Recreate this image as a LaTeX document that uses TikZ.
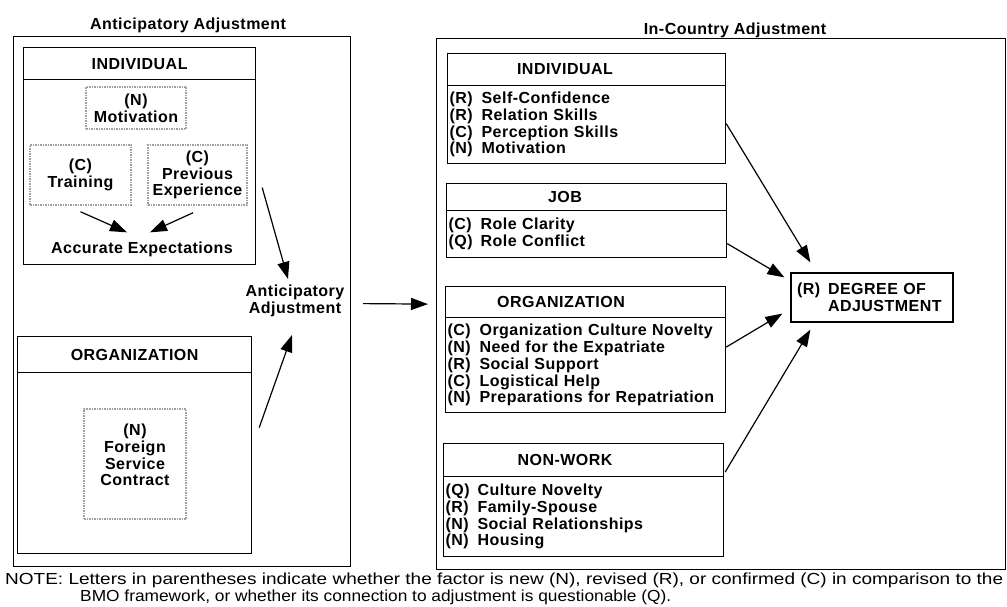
\documentclass[tikz,border=0pt]{standalone}
\usepackage{fontspec}
\usepackage{graphicx}
\usetikzlibrary{arrows.meta,calc}
\newfontfamily\dfont{Liberation Sans}[LetterSpace=3]
\newfontfamily\nfont{Liberation Sans}
\newcommand{\dtxt}{\dfont\bfseries\fontsize{16pt}{16.8pt}\selectfont}
\newcommand{\ntxt}{\nfont\fontsize{16pt}{17pt}\selectfont}
\newcommand{\pfx}[1]{\makebox[32pt][l]{#1}}
\tikzset{
  box/.style={draw, line width=1.2pt, inner sep=0pt},
  dbox/.style={draw=gray!75, line width=1.5pt, densely dotted, inner sep=0pt, font=\dtxt, align=center},
  lbl/.style={font=\dtxt, inner sep=0pt, align=center},
  listbox/.style={box, font=\dtxt, align=left, inner xsep=2pt},
  arr/.style={line width=1.2pt, -{Triangle[length=17pt,width=12pt]}},
}
\begin{document}
\begin{tikzpicture}[x=1pt,y=-1pt]
\useasboundingbox (0,0) rectangle (1007,607);
% outer frames
\node[box, minimum width=337pt, minimum height=530pt, anchor=north west] (lbox) at (13,36) {};
\node[box, minimum width=569pt, minimum height=531pt, anchor=north west] (rbox) at (436,38) {};
\node[lbl] (ltitle) at (188,25) {Anticipatory Adjustment};
\node[lbl] (rtitle) at (735,30) {In-Country Adjustment};
% left individual
\node[box, minimum width=232pt, minimum height=32pt, anchor=north west] (lindh) at (23,47) {};
\node[lbl] (lindt) at (lindh.center) {INDIVIDUAL};
\node[box, minimum width=232pt, minimum height=185pt, anchor=north west] (lindb) at (23,79) {};
\node[dbox, minimum width=100pt, minimum height=42pt] (mot) at (136,108) {(N)\\Motivation};
\node[dbox, minimum width=101pt, minimum height=60pt] (train) at (80.5,175) {(C)\\Training};
\node[dbox, minimum width=99pt, minimum height=60pt] (prev) at (197.5,175) {(C)\\Previous\\Experience};
\node[lbl] (acc) at (142,249) {Accurate Expectations};
\draw[arr] ($(train.south)+(0,6)$) -- ($(acc.north)+(-15,-9)$);
\draw[arr] ($(prev.south)+(-4.5,7)$) -- ($(acc.north)+(8,-9)$);
% left organization
\node[box, minimum width=234pt, minimum height=36pt, anchor=north west] (lorgh) at (17,336) {};
\node[lbl] (lorgt) at (lorgh.center) {ORGANIZATION};
\node[box, minimum width=234pt, minimum height=181pt, anchor=north west] (lorgb) at (17,372) {};
\node[dbox, minimum width=102pt, minimum height=110pt] (fsc) at (135,464) {};
\node[lbl] (fsct) at (135,455) {(N)\\Foreign\\Service\\Contract};
% anticipatory adjustment
\node[lbl] (antic) at (295,301) {Anticipatory\\Adjustment};
\draw[arr] ($(lindb.east)+(6,15.5)$) -- ($(antic.north)+(-7,-6)$);
\draw[arr] ($(lorgb.east)+(7,-35.5)$) -- ($(antic.south)+(-3,18)$);
\draw[arr] ($(lbox.east)+(12,2)$) -- ($(rbox.west)+(-8,0)$);
% right individual
\node[box, minimum width=278pt, minimum height=32pt, anchor=north west] (rindh) at (447,53) {};
\node[lbl] (rindt) at (565,69) {INDIVIDUAL};
\node[listbox, minimum width=278pt, minimum height=78pt, text width=274pt, anchor=north west] (rindb) at (447,85)
  {\pfx{(R)}Self-Confidence\\\pfx{(R)}Relation Skills\\\pfx{(C)}Perception Skills\\\pfx{(N)}Motivation};
% job
\node[box, minimum width=280pt, minimum height=27pt, anchor=north west] (jobh) at (446,183) {};
\node[lbl] (jobt) at (565,196.5) {JOB};
\node[listbox, minimum width=280pt, minimum height=47pt, text width=276pt, anchor=north west] (jobb) at (446,210)
  {\pfx{(C)}Role Clarity\\\pfx{(Q)}Role Conflict};
% organization
\node[box, minimum width=280pt, minimum height=31pt, anchor=north west] (rorgh) at (445,286) {};
\node[lbl] (rorgt) at (561,301.5) {ORGANIZATION};
\node[listbox, minimum width=280pt, minimum height=95pt, text width=276pt, anchor=north west] (rorgb) at (445,317)
  {\pfx{(C)}Organization Culture Novelty\\\pfx{(N)}Need for the Expatriate\\\pfx{(R)}Social Support\\\pfx{(C)}Logistical Help\\\pfx{(N)}Preparations for Repatriation};
% non-work
\node[box, minimum width=280pt, minimum height=33pt, anchor=north west] (nwh) at (443,443) {};
\node[lbl] (nwt) at (565,459.5) {NON-WORK};
\node[listbox, minimum width=280pt, minimum height=80pt, text width=276pt, anchor=north west] (nwb) at (443,476)
  {\pfx{(Q)}Culture Novelty\\\pfx{(R)}Family-Spouse\\\pfx{(N)}Social Relationships\\\pfx{(N)}Housing};
% degree of adjustment
\node[box, font=\dtxt, align=left, inner xsep=6pt, minimum width=162pt, minimum height=49pt, text width=150pt] (deg) at (872,297.5)
  {\makebox[31pt][l]{(R)}DEGREE OF\\\makebox[31pt][l]{}ADJUSTMENT};
\draw[arr] ($(rindb.east)+(0,-1)$) -- ($(deg.north west)+(20,-10)$);
\draw[arr] ($(jobb.east)+(0,9.5)$) -- ($(deg.north west)+(-6,5)$);
\draw[arr] ($(rorgb.east)+(0,-18)$) -- ($(deg.south west)+(-8,-9)$);
\draw[arr] ($(nwb.north east)+(1,-4)$) -- ($(deg.south west)+(20,7)$);
% note
\node[anchor=west, inner sep=0pt, font=\ntxt] (note1) at (5,580)
  {\resizebox{998pt}{\height}{NOTE: Letters in parentheses indicate whether the factor is new (N), revised (R), or confirmed (C) in comparison to the}};
\node[anchor=west, inner sep=0pt, font=\ntxt] (note2) at (80,597)
  {\resizebox{591pt}{\height}{BMO framework, or whether its connection to adjustment is questionable (Q).}};
\end{tikzpicture}
\end{document}
